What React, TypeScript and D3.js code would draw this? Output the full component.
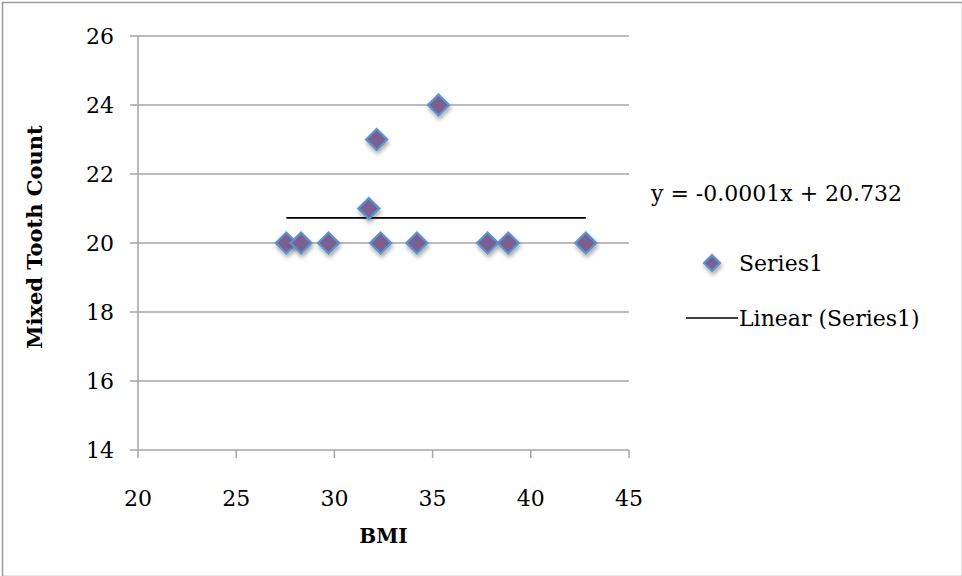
import React from "react"
import * as d3 from "d3"

const WIDTH = 962
const HEIGHT = 576

// BMI vs mixed tooth count
const bmiValues = [27.55, 28.3, 29.7, 31.75, 32.15, 32.35, 34.2, 35.3, 37.8, 38.85, 42.8]
const toothCounts = [20, 20, 20, 21, 23, 20, 20, 24, 20, 20, 20]

const xTicks = [20, 25, 30, 35, 40, 45]
const yTicks = [14, 16, 18, 20, 22, 24, 26]

const trendSlope = -0.0001
const trendIntercept = 20.732
const trendLabel = "y = -0.0001x + 20.732"
const seriesName = "Series1"
const trendName = "Linear (Series1)"

const FONT = "'DejaVu Serif', 'Liberation Serif', serif"
const GRID = "#a6a6a6"
const MARKER_FILL = "#7a6190"
const MARKER_STROKE = "#5b94d0"

const margin = { top: 36, right: 333, bottom: 126, left: 138 }

const Diamond = ({ cx, cy, r }: { cx: number; cy: number; r: number }) => (
	<path
		d={`M${cx},${cy - r}L${cx + r},${cy}L${cx},${cy + r}L${cx - r},${cy}Z`}
		fill={MARKER_FILL}
		stroke={MARKER_STROKE}
		strokeWidth={2.2}
		filter="url(#marker-shadow)"
	/>
)

const App = () => {
	const plotW = WIDTH - margin.left - margin.right
	const plotH = HEIGHT - margin.top - margin.bottom

	const xScale = d3.scaleLinear().domain([20, 45]).range([0, plotW])
	const yScale = d3.scaleLinear().domain([14, 26]).range([plotH, 0])

	const xMin = d3.min(bmiValues) as number
	const xMax = d3.max(bmiValues) as number
	const trendLine = d3
		.line<number>()
		.x((d) => xScale(d))
		.y((d) => yScale(trendSlope * d + trendIntercept))

	return (
		<div style={{ width: WIDTH, height: HEIGHT }}>
			<style>{`body{margin:0}`}</style>
			<svg width={WIDTH} height={HEIGHT} style={{ display: "block", fontFamily: FONT }}>
				<defs>
					<filter id="marker-shadow" x="-50%" y="-50%" width="200%" height="200%">
						<feGaussianBlur in="SourceAlpha" stdDeviation="2" />
						<feOffset dx="1" dy="3" result="blur" />
						<feComponentTransfer>
							<feFuncA type="linear" slope="0.35" />
						</feComponentTransfer>
						<feMerge>
							<feMergeNode />
							<feMergeNode in="SourceGraphic" />
						</feMerge>
					</filter>
				</defs>

				<rect x={0} y={0} width={WIDTH} height={HEIGHT} fill="white" />
				<rect x={2.5} y={2.5} width={WIDTH - 2} height={HEIGHT - 2} fill="none" stroke="#9a9a9a" strokeWidth={1.5} />

				<g transform={`translate(${margin.left},${margin.top})`}>
					{/* horizontal gridlines + y ticks */}
					{yTicks.map((t) => (
						<g key={t}>
							<line x1={-8} x2={plotW} y1={yScale(t)} y2={yScale(t)} stroke={GRID} strokeWidth={1.5} />
							<text x={-24} y={yScale(t)} dy="0.35em" textAnchor="end" fontSize={22} fill="#000">
								{t}
							</text>
						</g>
					))}
					{/* y axis */}
					<line x1={0} x2={0} y1={0} y2={plotH} stroke={GRID} strokeWidth={1.5} />
					{/* x ticks */}
					{xTicks.map((t) => (
						<g key={t}>
							<line x1={xScale(t)} x2={xScale(t)} y1={plotH} y2={plotH + 8} stroke={GRID} strokeWidth={1.5} />
							<text x={xScale(t)} y={plotH + 56} textAnchor="middle" fontSize={22} fill="#000">
								{t}
							</text>
						</g>
					))}

					{/* trendline */}
					<path d={trendLine([xMin, xMax]) || ""} fill="none" stroke="#000" strokeWidth={1.6} />

					{/* points */}
					{bmiValues.map((b, i) => (
						<Diamond key={i} cx={xScale(b)} cy={yScale(toothCounts[i])} r={10.5} />
					))}

					<text x={plotW / 2} y={plotH + 93} textAnchor="middle" fontSize={20} fontWeight="bold">
						BMI
					</text>
					<text
						transform={`translate(-96,${plotH / 2 - 6}) rotate(-90)`}
						textAnchor="middle"
						fontSize={21}
						fontWeight="bold"
					>
						Mixed Tooth Count
					</text>
				</g>

				{/* trend equation and legend */}
				<text x={651} y={201} fontSize={22}>
					{trendLabel}
				</text>
				<Diamond cx={712} cy={263} r={8} />
				<text x={739} y={271} fontSize={22}>
					{seriesName}
				</text>
				<line x1={686} x2={738} y1={318} y2={318} stroke="#000" strokeWidth={1.6} />
				<text x={739} y={326} fontSize={22}>
					{trendName}
				</text>
			</svg>
		</div>
	)
}

export default App
